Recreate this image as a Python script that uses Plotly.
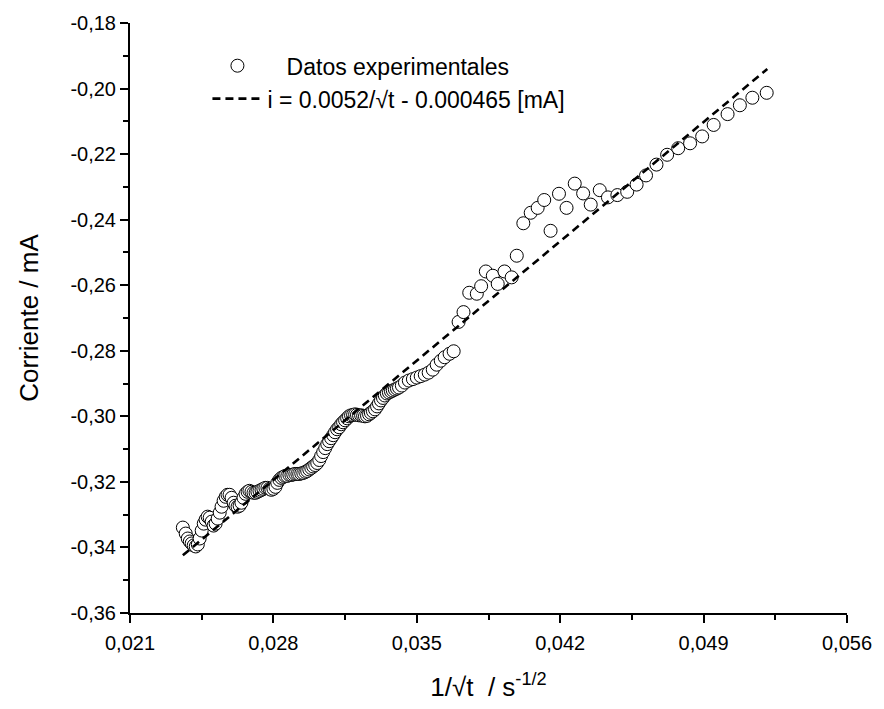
import plotly.graph_objects as go

# ---- experimental data (1/sqrt(t) in s^-1/2, current in mA) ----
x_data = [
    0.02358, 0.02372, 0.02382, 0.02392, 0.02401, 0.02411, 0.02421, 0.02431, 0.02440, 0.02450,
    0.02460, 0.02469, 0.02479, 0.02489, 0.02499, 0.02508, 0.02518, 0.02528, 0.02538, 0.02547,
    0.02557, 0.02567, 0.02576, 0.02586, 0.02596, 0.02606, 0.02615, 0.02625, 0.02635, 0.02644,
    0.02654, 0.02664, 0.02674, 0.02683, 0.02693, 0.02703, 0.02713, 0.02722, 0.02732, 0.02742,
    0.02751, 0.02761, 0.02771, 0.02781, 0.02790, 0.02800, 0.02810, 0.02819, 0.02829, 0.02839,
    0.02849, 0.02858, 0.02868, 0.02878,
    0.02888, 0.02897, 0.02907, 0.02917, 0.02926, 0.02936, 0.02946, 0.02956, 0.02965, 0.02975,
    0.02985, 0.02994, 0.03004, 0.03014, 0.03024, 0.03033, 0.03043, 0.03053, 0.03063, 0.03072,
    0.03082, 0.03092, 0.03101, 0.03111, 0.03121, 0.03131, 0.03140, 0.03150, 0.03160, 0.03169,
    0.03179, 0.03189, 0.03199, 0.03208, 0.03218, 0.03228, 0.03238, 0.03247, 0.03257, 0.03267,
    0.03276, 0.03286, 0.03296, 0.03306, 0.03315, 0.03325, 0.03335, 0.03344, 0.03354, 0.03364,
    0.03374, 0.03383, 0.03393, 0.03403, 0.03413, 0.03427, 0.03442,
    0.03461, 0.03481, 0.03500, 0.03519, 0.03539, 0.03558, 0.03578, 0.03597, 0.03617, 0.03636,
    0.03660, 0.03680,
    0.03704, 0.03728, 0.03756, 0.03793, 0.03814, 0.03837, 0.03871, 0.03895, 0.03928, 0.03963,
    0.03988, 0.04020, 0.04056, 0.04090, 0.04122, 0.04153, 0.04194, 0.04231, 0.04271, 0.04312,
    0.04349, 0.04393, 0.04433, 0.04479, 0.04527, 0.04573, 0.04619, 0.04670, 0.04722, 0.04776,
    0.04834, 0.04893, 0.04949, 0.05017, 0.05077, 0.05138, 0.05208,
]
y_data = [
    -0.33394, -0.33576, -0.33727, -0.33818, -0.33879, -0.33939, -0.33970, -0.33909, -0.33727, -0.33485,
    -0.33273, -0.33152, -0.33061, -0.33091, -0.33212, -0.33333, -0.33273, -0.33121, -0.32939, -0.32758,
    -0.32576, -0.32455, -0.32394, -0.32394, -0.32485, -0.32636, -0.32727, -0.32758, -0.32727, -0.32636,
    -0.32485, -0.32364, -0.32303, -0.32273, -0.32303, -0.32333, -0.32333, -0.32303, -0.32273, -0.32242,
    -0.32212, -0.32182, -0.32182, -0.32212, -0.32242, -0.32212, -0.32152, -0.32030, -0.31939, -0.31879,
    -0.31848, -0.31818, -0.31818, -0.31788,
    -0.31788, -0.31773, -0.31758, -0.31758, -0.31758, -0.31742, -0.31727, -0.31697, -0.31667, -0.31621,
    -0.31576, -0.31530, -0.31485, -0.31424, -0.31333, -0.31212, -0.31091, -0.30970, -0.30848, -0.30758,
    -0.30667, -0.30576, -0.30485, -0.30394, -0.30333, -0.30242, -0.30182, -0.30121, -0.30061, -0.30000,
    -0.29970, -0.29955, -0.29939, -0.29955, -0.29970, -0.29970, -0.29985, -0.30000, -0.29985, -0.29939,
    -0.29894, -0.29848, -0.29788, -0.29697, -0.29606, -0.29515, -0.29439, -0.29364, -0.29303, -0.29273,
    -0.29242, -0.29212, -0.29182, -0.29152, -0.29121, -0.29061, -0.28970,
    -0.28909, -0.28864, -0.28818, -0.28773, -0.28727, -0.28667, -0.28576, -0.28424, -0.28303, -0.28197,
    -0.28091, -0.28015,
    -0.2712, -0.2682, -0.2623, -0.2626, -0.2603, -0.2558, -0.2571, -0.2596, -0.2558, -0.2576,
    -0.2510, -0.2411, -0.2379, -0.2364, -0.2340, -0.2434, -0.2321, -0.2364, -0.2290, -0.2320,
    -0.2354, -0.2310, -0.2332, -0.2325, -0.2315, -0.2293, -0.2265, -0.2232, -0.2202, -0.2182,
    -0.2167, -0.2146, -0.2111, -0.2078, -0.2051, -0.2028, -0.2013,
]

# ---- linear fit  i = 5.2 * x - 0.465 (mA) ----
fit_x = [0.02358, 0.05211]
fit_slope = 5.2
fit_intercept = -0.465
fit_y = [fit_slope * v + fit_intercept for v in fit_x]

x_ticks = [0.021, 0.028, 0.035, 0.042, 0.049, 0.056]
x_tick_text = ["0,021", "0,028", "0,035", "0,042", "0,049", "0,056"]
y_ticks = [-0.36, -0.34, -0.32, -0.30, -0.28, -0.26, -0.24, -0.22, -0.20, -0.18]
y_tick_text = ["-0,36", "-0,34", "-0,32", "-0,30", "-0,28", "-0,26", "-0,24", "-0,22", "-0,20", "-0,18"]

legend_data = "\u00a0\u00a0\u00a0Datos experimentales"
legend_fit = "i = 0.0052/√t - 0.000465 [mA]"

FONT = "Liberation Sans, Arial, sans-serif"

fig = go.Figure()
fig.add_trace(go.Scatter(
    x=x_data, y=y_data, mode="markers", name=legend_data,
    marker=dict(symbol="circle", size=13, color="white",
                line=dict(color="black", width=1)),
    legendgroup="a", legendrank=1,
))
fig.add_trace(go.Scatter(
    x=fit_x, y=fit_y, mode="lines", name=legend_fit,
    line=dict(color="black", width=2.6, dash="8px,5px"),
    legendgroup="b", legendrank=2,
))

axis_font = dict(family=FONT, size=20, color="black")
fig.update_layout(
    width=884, height=709,
    margin=dict(l=130, r=34, t=19, b=96),
    paper_bgcolor="white", plot_bgcolor="white",
    font=dict(family=FONT, color="black"),
    legend=dict(x=0.108, y=0.964, xanchor="left", yanchor="top",
                bgcolor="rgba(0,0,0,0)", borderwidth=0,
                font=dict(family=FONT, size=23, color="black"),
                traceorder="grouped", tracegroupgap=0, itemwidth=50),
    showlegend=True,
)
fig.update_xaxes(
    range=[0.021, 0.056], showline=True, linecolor="black", linewidth=2,
    ticks="outside", ticklen=8, tickwidth=2, tickcolor="black",
    tickvals=x_ticks, ticktext=x_tick_text, tickfont=axis_font,
    ticklabelstandoff=3,
    minor=dict(ticks="outside", ticklen=5, tickwidth=2, tickcolor="black", dtick=0.0035, tick0=0.021),
    showgrid=False, zeroline=False,
    title=dict(text="1/√t  / s<sup>-1/2</sup>", font=dict(family=FONT, size=26, color="black"), standoff=25),
)
fig.update_yaxes(
    range=[-0.36, -0.18], showline=True, linecolor="black", linewidth=2,
    ticks="outside", ticklen=8, tickwidth=2, tickcolor="black",
    tickvals=y_ticks, ticktext=y_tick_text, tickfont=axis_font,
    minor=dict(ticks="outside", ticklen=5, tickwidth=2, tickcolor="black", dtick=0.01, tick0=-0.36),
    showgrid=False, zeroline=False,
    title=dict(text="Corriente / mA", font=dict(family=FONT, size=26, color="black"), standoff=24),
)

fig.write_html("out.html")
